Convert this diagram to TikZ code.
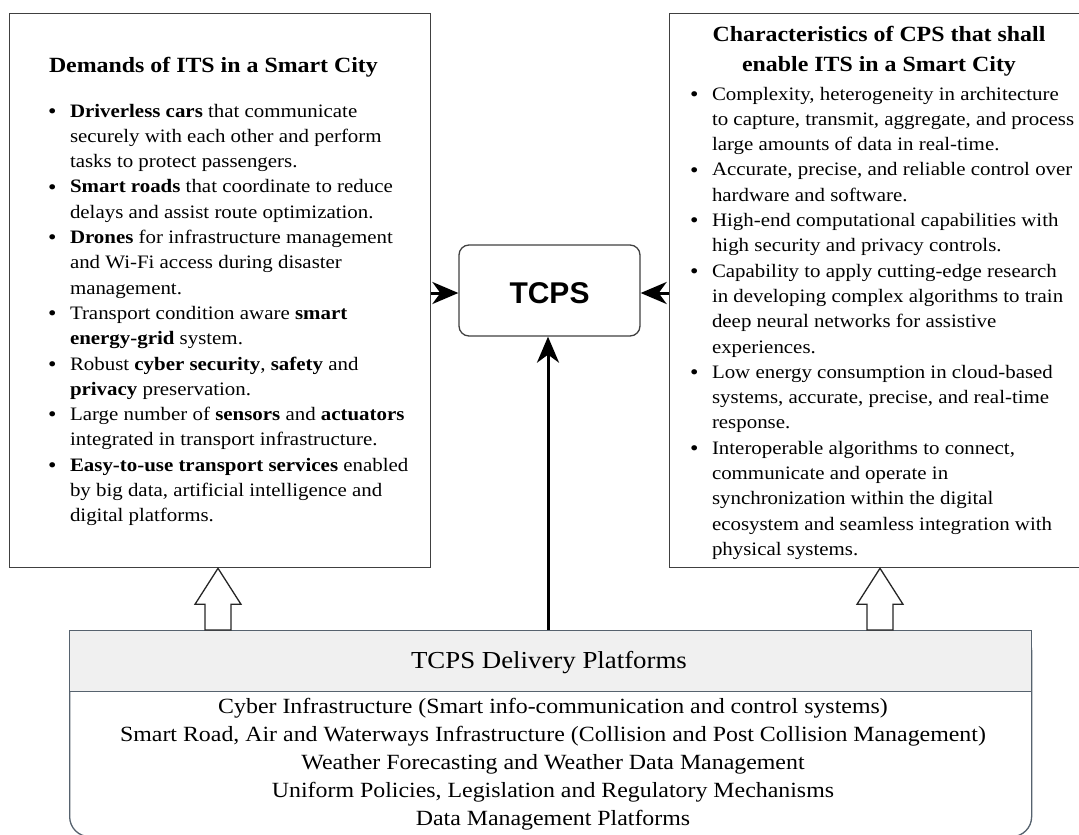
\documentclass[tikz,border=0pt]{standalone}
\usepackage{fontspec}
\setmainfont[FakeStretch=1.1]{Liberation Serif}
\newfontfamily\tcpsfont{Liberation Sans}
\usetikzlibrary{arrows.meta,calc}

\definecolor{panelline}{HTML}{404040}
\definecolor{headfill}{HTML}{F0F0F0}
\definecolor{platline}{HTML}{56626E}

% text sizes
\newcommand\bodyfont{\fontsize{19}{25.3}\selectfont}
\newcommand\headfont{\fontsize{21.7}{29.5}\selectfont\bfseries}
\newcommand\platfont{\fontsize{21.7}{28}\selectfont}
% bullet item with hanging bullet
\newcommand\bl{\par\noindent\llap{\raisebox{-1.2pt}{\scalebox{1.15}{\textbullet}}\hspace{13.5pt}}}

\tikzset{
  panel/.style={draw=panelline, line width=1.3pt, fill=white, inner sep=0pt, anchor=north west},
  textblock/.style={inner sep=0pt, outer sep=0pt},
  conn/.style={line width=3pt, -{Stealth[length=26pt,width=22pt,inset=8pt]}},
  blockarrow/.style={draw=black!85, line width=1.3pt, fill=white, line join=miter},
}

\begin{document}
\begin{tikzpicture}[x=1pt, y=-1pt]
\useasboundingbox (0,0) rectangle (1079,835);

% ---- left panel: demands ----
\node[panel, minimum width=421, minimum height=554] (demands) at (9,13) {};
\node[textblock, anchor=base west] (demandsT) at (49,72.7) {\headfont Demands of ITS in a Smart City};
\node[textblock, anchor=base west] (demandsL) at (70,117) {%
\begin{minipage}[t]{420pt}\raggedright\bodyfont
\bl\textbf{Driverless cars} that communicate\\
securely with each other and perform\\
tasks to protect passengers.
\bl\textbf{Smart roads} that coordinate to reduce\\
delays and assist route optimization.
\bl\textbf{Drones} for infrastructure management\\
and Wi-Fi access during disaster\\
management.
\bl Transport condition aware \textbf{smart}\\
\textbf{energy-grid} system.
\bl Robust \textbf{cyber security}, \textbf{safety} and\\
\textbf{privacy} preservation.
\bl Large number of \textbf{sensors} and \textbf{actuators}\\
integrated in transport infrastructure.
\bl\textbf{Easy-to-use transport services} enabled\\
by big data, artificial intelligence and\\
digital platforms.
\end{minipage}};

% ---- right panel: characteristics ----
\node[panel, minimum width=420, minimum height=554] (chars) at (669,13) {};
\node[textblock, anchor=base] (charsT) at (879,41.7) {%
\begin{minipage}[t]{400pt}\centering\headfont
Characteristics of CPS that shall\\
enable ITS in a Smart City
\end{minipage}};
\node[textblock, anchor=base west] (charsL) at (712,100) {%
\begin{minipage}[t]{420pt}\raggedright\bodyfont
\bl Complexity, heterogeneity in architecture\\
to capture, transmit, aggregate, and process\\
large amounts of data in real-time.
\bl Accurate, precise, and reliable control over\\
hardware and software.
\bl High-end computational capabilities with\\
high security and privacy controls.
\bl Capability to apply cutting-edge research\\
in developing complex algorithms to train\\
deep neural networks for assistive\\
experiences.
\bl Low energy consumption in cloud-based\\
systems, accurate, precise, and real-time\\
response.
\bl Interoperable algorithms to connect,\\
communicate and operate in\\
synchronization within the digital\\
ecosystem and seamless integration with\\
physical systems.
\end{minipage}};

% ---- central TCPS box ----
\node[draw=panelline, line width=1.3pt, rounded corners=10pt, fill=white,
      minimum width=181, minimum height=91] (tcps) at (549.5,290.5) {};
\node[textblock] (tcpsT) at (549.5,293) {\tcpsfont\bfseries\fontsize{30}{30}\selectfont TCPS};

% ---- delivery platforms ----
\node[panel, draw=platline, rounded corners=20pt, minimum width=962, minimum height=206] (plat) at (69,630) {};
\node[panel, draw=platline, fill=headfill, minimum width=962, minimum height=61] (plathead) at (69,630) {};
\node[textblock, anchor=base] (platT) at (549,668) {\fontsize{24.4}{28}\selectfont TCPS Delivery Platforms};
\node[textblock, anchor=base] (platL) at (553,713) {%
\begin{minipage}[t]{960pt}\centering\platfont
Cyber Infrastructure (Smart info-communication and control systems)\\
Smart Road, Air and Waterways Infrastructure (Collision and Post Collision Management)\\
Weather Forecasting and Weather Data Management\\
Uniform Policies, Legislation and Regulatory Mechanisms\\
Data Management Platforms
\end{minipage}};

% ---- connectors into TCPS ----
\draw[conn] ([yshift=-2.5pt]demands.east |- tcps.west) -- ([yshift=-2.5pt]tcps.west);
\draw[conn] ([yshift=-2.5pt]chars.west |- tcps.east) -- ([yshift=-2.5pt]tcps.east);
\draw[conn] ([xshift=-1.5pt]tcps.south |- plat.north) -- ([xshift=-1.5pt]tcps.south);

% ---- hollow block arrows from the platforms up to the panels ----
\coordinate (hl) at (218,0);
\coordinate (hr) at (880,0);
\coordinate (tipL) at (hl |- demands.south);
\coordinate (tipR) at (hr |- chars.south);
\coordinate (shLa) at ($(tipL)+(13,0)$);
\coordinate (shLb) at ($(tipL)+(-13,0)$);
\coordinate (shRa) at ($(tipR)+(13,0)$);
\coordinate (shRb) at ($(tipR)+(-13,0)$);
\draw[blockarrow] (tipL) -- ++(23,36) -- ++(-10,0) -- (shLa |- plat.north)
  -- (shLb |- plat.north) -- ($(tipL)+(-13,36)$) -- ++(-10,0) -- cycle;
\draw[blockarrow] (tipR) -- ++(23,36) -- ++(-10,0) -- (shRa |- plat.north)
  -- (shRb |- plat.north) -- ($(tipR)+(-13,36)$) -- ++(-10,0) -- cycle;
\end{tikzpicture}
\end{document}
